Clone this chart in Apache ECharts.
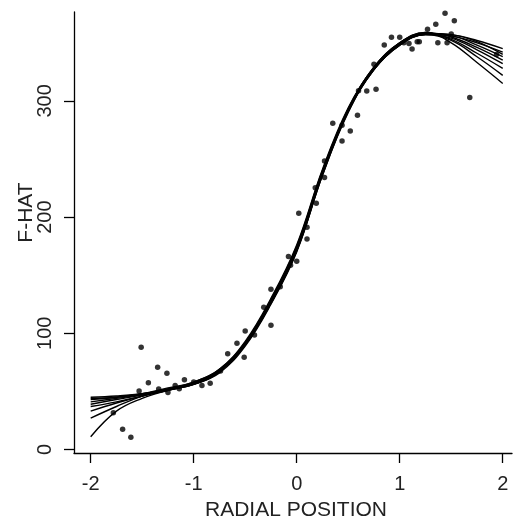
<!DOCTYPE html>
<html>
<head>
<meta charset="utf-8">
<script src="https://cdn.jsdelivr.net/npm/echarts@6/dist/echarts.min.js"></script>
<style>
html,body{margin:0;padding:0;background:#fff;}
#chart{width:518px;height:523px;}
</style>
</head>
<body>
<div id="chart"></div>
<script>
// x grid for the fitted curves
var xGrid = [-2, -1.75, -1.5, -1.25, -1, -0.75, -0.5, -0.25, 0, 0.25, 0.5, 0.75, 1, 1.25, 1.5, 1.75, 2];
// fitted curves (F-HAT)
var curve1 = [45, 46, 48, 52, 57, 68, 91, 127, 172, 238, 292, 328, 349, 358, 357, 352, 345];
var curve2 = [43, 45, 48, 53, 58, 69, 93, 130, 176, 241, 294, 329, 350, 358, 356, 350, 342];
var curve3 = [41, 44, 47, 51, 56, 66, 89, 125, 170, 236, 290, 327, 348, 357, 356, 348, 338];
var curve4 = [39, 43, 47, 52, 57, 68, 91, 128, 174, 239, 293, 329, 350, 359, 355, 346, 335];
var curve5 = [37, 41, 46, 51, 56, 67, 90, 126, 171, 236, 291, 327, 348, 357, 354, 344, 332];
var curve6 = [27, 37, 46, 52, 58, 69, 92, 129, 175, 240, 293, 328, 349, 358, 353, 341, 328];
var curve7 = [11, 33, 44, 51, 57, 68, 92, 128, 173, 238, 291, 327, 348, 357, 352, 338, 322];
var curve8 = [44, 45, 48, 52, 56, 67, 90, 126, 171, 237, 292, 329, 350, 359, 350, 333, 315];
var curve9 = [33, 40, 46, 51, 57, 68, 91, 127, 173, 239, 292, 328, 349, 358, 357, 351, 340];
var curves = [curve1, curve2, curve3, curve4, curve5, curve6, curve7, curve8, curve9];

// observed points
var pointX = [-1.51, -1.35, -1.26, -1.44, -1.53, -1.34, -1.25, -1.18, -1.09, -1.14, -1.00, -0.92, -0.84, -0.74, -0.67, -0.58, -0.51, -0.50, -0.41,
  -1.78, -1.69, -1.61, -0.25, -0.32, -0.25,
  0.35, 0.44, 0.52, 0.44, 0.27, 0.27, 0.18, 0.19, 0.02, 0.10, 0.10, -0.08, 0.00, -0.06, -0.16,
  0.92, 1.00, 0.85, 1.09, 1.12, 1.17, 0.75, 0.60, 0.68, 0.77, 0.59,
  1.44, 1.53, 1.35, 1.27, 1.50, 1.04, 1.19, 1.37, 1.46, 1.94, 1.68];
var pointY = [88, 70.7, 65.6, 57.5, 50.3, 52, 49, 55, 60, 52.3, 58, 55, 57, 67.5, 82.5, 91.4, 79.3, 102, 98.5,
  31.7, 17.4, 10.5, 137.9, 122.4, 106.9,
  280.7, 279, 274, 265.5, 248.3, 234, 225.3, 212, 203.3, 191.2, 181.2, 166, 162, 158.5, 140,
  354.7, 354.7, 348, 349.5, 344.7, 351, 331.5, 308.8, 308.5, 310, 287.6,
  375.4, 369, 366, 361.6, 357.6, 350, 351, 350, 350, 340, 303];

var xTicks = [-2, -1, 0, 1, 2];
var yTicks = [0, 100, 200, 300];

var series = curves.map(function (c) {
  return {
    type: 'line',
    data: xGrid.map(function (x, i) { return [x, c[i]]; }),
    smooth: 0.4,
    showSymbol: false,
    silent: true,
    lineStyle: { color: '#000', width: 1.4 },
    z: 2
  };
});
series.push({
  type: 'scatter',
  data: pointX.map(function (x, i) { return [x, pointY[i]]; }),
  symbolSize: 5.5,
  itemStyle: { color: '#000' },
  z: 3
});

var chart = echarts.init(document.getElementById('chart'));
var font = 'Liberation Sans, Arial, sans-serif';
chart.setOption({
  animation: false,
  backgroundColor: '#fff',
  grid: { left: 74, top: 12, width: 438, height: 441, containLabel: false, outerBoundsMode: 'none' },
  xAxis: {
    type: 'value', min: -2.162, max: 2.09,
    name: 'RADIAL POSITION', nameLocation: 'middle', nameGap: 47,
    nameTextStyle: { fontSize: 21, color: '#222', fontFamily: font, padding: [0, 0, 0, 6] },
    axisLine: { onZero: false, lineStyle: { color: '#000', width: 1.3 } },
    axisTick: { show: true, customValues: xTicks, length: 10, lineStyle: { color: '#000', width: 1.3 } },
    axisLabel: { customValues: xTicks, fontSize: 20, color: '#222', fontFamily: font, margin: 21 },
    splitLine: { show: false }
  },
  yAxis: {
    type: 'value', min: -3, max: 376.5,
    name: 'F-HAT', nameLocation: 'middle', nameGap: 37, nameMoveOverlap: false,
    nameTextStyle: { fontSize: 21, color: '#222', fontFamily: font, padding: [0, 0, 0, 40] },
    axisLine: { onZero: false, lineStyle: { color: '#000', width: 1.3 } },
    axisTick: { show: true, customValues: yTicks, length: 10, lineStyle: { color: '#000', width: 1.3 } },
    axisLabel: { customValues: yTicks, rotate: 90, fontSize: 20, color: '#222', fontFamily: font, margin: 19 },
    splitLine: { show: false }
  },
  series: series
});
</script>
</body>
</html>
